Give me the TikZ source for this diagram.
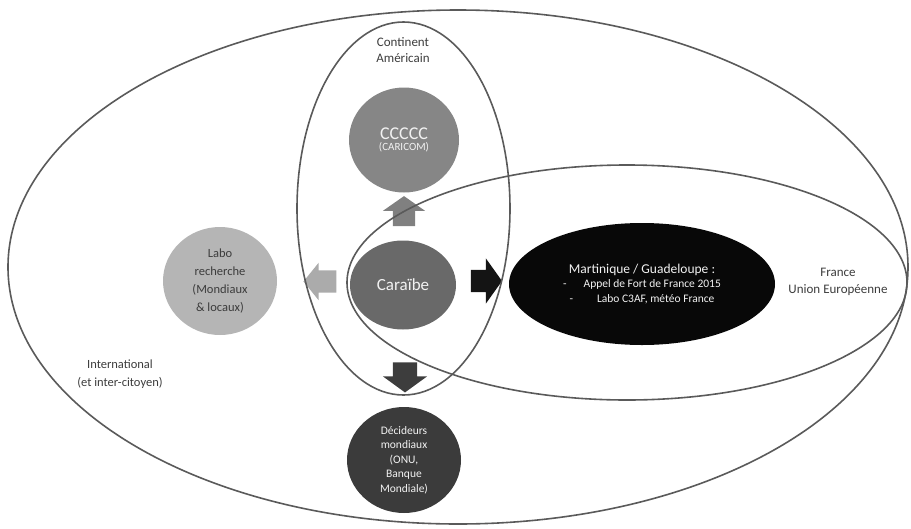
\documentclass[tikz,border=0pt]{standalone}
\usepackage{fontspec}
\setmainfont{Carlito}
\usetikzlibrary{shapes.geometric,shapes.arrows,positioning}
\definecolor{linegray}{HTML}{5A5A5A}
\definecolor{textgray}{HTML}{3C3C3C}
\definecolor{softwhite}{HTML}{F2F2F2}
\tikzstyle{zone} = [ellipse, draw=linegray, line width=1.6pt]
\tikzstyle{zonetext} = [align=center, text=textgray, font=\fontsize{13}{16.5}\selectfont]
\tikzstyle{actor} = [ellipse, align=center, inner sep=0pt]
\tikzstyle{blockarrow} = [single arrow, inner xsep=0pt, inner ysep=11pt, minimum width=1pt, minimum height=30pt, single arrow head extend=10pt, single arrow tip angle=110]

\begin{document}
\begin{tikzpicture}[x=1pt, y=-1pt]
\useasboundingbox (0,0) rectangle (911,528);
   \node (CCCCC) at (404, 140) [actor, fill=gray!95!white, minimum width=110pt, minimum height=105pt, text=softwhite] {{\fontsize{18}{18}\selectfont CCCCC}\\[-1pt]{\fontsize{11}{13}\selectfont (CARICOM)}};
   \node (Caraibe) at (403, 285) [actor, fill=black!59, minimum width=106pt, minimum height=89pt, text=softwhite, font=\fontsize{17}{20}\selectfont] {Caraïbe};
   \node (Labo) at (220, 281) [actor, fill=black!29, minimum width=114pt, minimum height=108pt, text=textgray, font=\fontsize{12.5}{18}\selectfont] {Labo\\recherche\\(Mondiaux\\\& locaux)};
   \node (Decideurs) at (404, 460) [actor, fill=black!77, minimum width=114pt, minimum height=106pt, text=softwhite, font=\fontsize{11.5}{14.5}\selectfont] {Décideurs\\mondiaux\\(ONU,\\Banque\\Mondiale)};
   \node (Martinique) at (642, 284) [actor, fill=black!97, minimum width=266pt, minimum height=122pt, text=softwhite, font=\fontsize{11.5}{14.5}\selectfont] {{\fontsize{13.5}{14.5}\selectfont Martinique / Guadeloupe :}\\-\hspace{17pt}Appel de Fort de France 2015\\-\hspace{24pt}Labo C3AF, météo France};

   \node (ArrowUp) at (404, 215) [blockarrow, rotate=90, fill=black!50] {};
   \node (ArrowLeft) at (324.5, 281.5) [blockarrow, rotate=180, fill=black!33, minimum height=33pt, single arrow head extend=7.5pt, single arrow tip angle=102] {};
   \node (ArrowRight) at (482.5, 281) [blockarrow, fill=black!92, minimum height=31pt, single arrow head extend=11.5pt, single arrow tip angle=109] {};
   \node (ArrowDown) at (405, 373) [blockarrow, rotate=270, fill=black!76, inner ysep=12pt, single arrow head extend=10pt, single arrow tip angle=108] {};

   \node (International) at (458, 267) [zone, minimum width=900pt, minimum height=514pt] {};
   \node (Continent) at (403.5, 208.5) [zone, minimum width=213pt, minimum height=373pt] {};
   \node (France) at (627, 282.5) [zone, minimum width=560pt, minimum height=235pt] {};

   \node (ContinentText) at (403, 50) [zonetext] {Continent\\Américain};
   \node (FranceText) at (838, 282) [zonetext] {France\\Union Européenne};
   \node (InternationalText) at (120, 374) [zonetext, font=\fontsize{12.5}{18}\selectfont] {International\\(et inter-citoyen)};

\end{tikzpicture}
\end{document}
